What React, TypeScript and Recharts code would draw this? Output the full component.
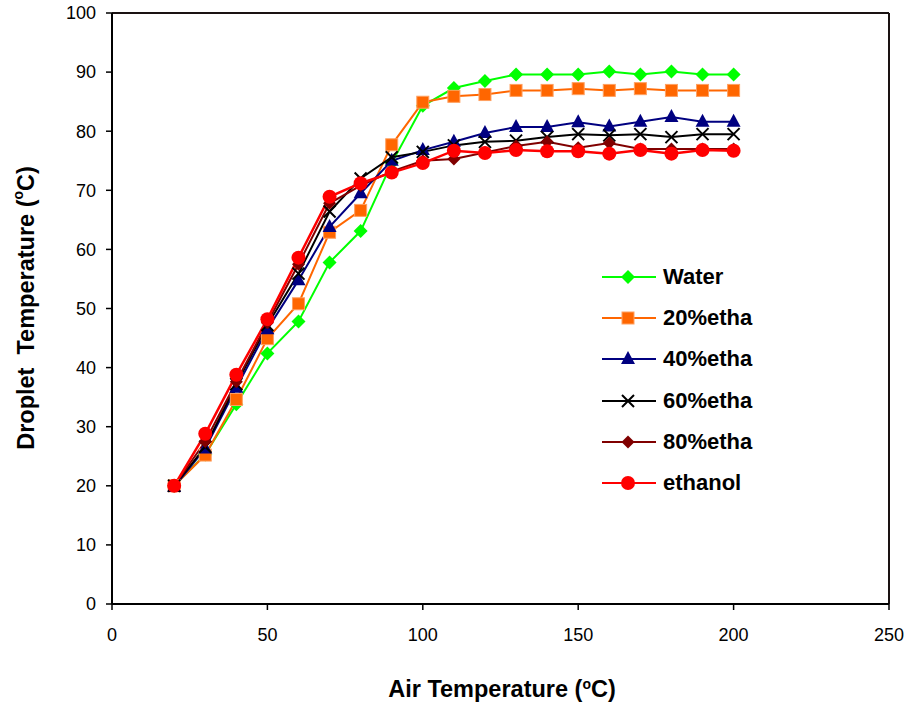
import React from "react";
import {
  LineChart,
  Line,
  XAxis,
  YAxis,
  Legend,
  ReferenceLine,
  Label,
} from "recharts";

const airTemp = [20, 30, 40, 50, 60, 70, 80, 90, 100, 110, 120, 130, 140, 150, 160, 170, 180, 190, 200];
const water = [20, 25.3, 33.8, 42.4, 47.8, 57.8, 63.1, 74.6, 84.3, 87.3, 88.5, 89.6, 89.6, 89.6, 90.1, 89.6, 90.1, 89.6, 89.6];
const etha20 = [20, 25.2, 34.6, 44.9, 50.8, 62.9, 66.6, 77.7, 84.9, 85.9, 86.2, 86.9, 86.9, 87.2, 86.9, 87.2, 86.9, 86.9, 86.9];
const etha40 = [19.8, 26.3, 36.6, 46.5, 54.8, 63.8, 69.5, 75.0, 76.8, 78.2, 79.7, 80.7, 80.7, 81.5, 80.8, 81.6, 82.4, 81.6, 81.6];
const etha60 = [20, 26.6, 37.2, 47.2, 55.9, 66.4, 72.0, 75.6, 76.5, 77.6, 78.2, 78.4, 79.0, 79.5, 79.3, 79.5, 79.0, 79.5, 79.5];
const etha80 = [20, 27.5, 37.6, 47.6, 57.5, 67.8, 70.8, 73.2, 75.0, 75.3, 76.4, 77.5, 78.2, 77.2, 78.0, 77.0, 77.0, 77.0, 77.0];
const ethanol = [20, 28.8, 38.8, 48.2, 58.6, 68.9, 71.2, 73.0, 74.6, 76.7, 76.3, 76.8, 76.6, 76.6, 76.2, 76.8, 76.2, 76.8, 76.7];

const xTicks = [0, 50, 100, 150, 200, 250];
const yTicks = [0, 10, 20, 30, 40, 50, 60, 70, 80, 90, 100];

const data = airTemp.map((t, i) => ({
  t,
  water: water[i],
  e20: etha20[i],
  e40: etha40[i],
  e60: etha60[i],
  e80: etha80[i],
  eth: ethanol[i],
}));

type Shape = "diamond" | "square" | "triangle" | "cross" | "smallDiamond" | "circle";

function marker(shape: Shape, color: string, cx: number, cy: number, key?: string) {
  switch (shape) {
    case "diamond":
      return <path key={key} d={`M${cx},${cy - 7}L${cx + 7},${cy}L${cx},${cy + 7}L${cx - 7},${cy}Z`} fill={color} />;
    case "smallDiamond":
      return <path key={key} d={`M${cx},${cy - 6.5}L${cx + 6.5},${cy}L${cx},${cy + 6.5}L${cx - 6.5},${cy}Z`} fill={color} />;
    case "square":
      return <rect key={key} x={cx - 6} y={cy - 6} width={12} height={12} fill={color} stroke="#ffa060" strokeWidth={1} />;
    case "triangle":
      return <path key={key} d={`M${cx},${cy - 8}L${cx + 7},${cy + 5}L${cx - 7},${cy + 5}Z`} fill={color} />;
    case "cross":
      return (
        <path key={key} d={`M${cx - 6},${cy - 6}L${cx + 6},${cy + 6}M${cx + 6},${cy - 6}L${cx - 6},${cy + 6}`} stroke={color} strokeWidth={2} fill="none" />
      );
    default:
      return <circle key={key} cx={cx} cy={cy} r={7} fill={color} />;
  }
}

const series: { key: string; name: string; color: string; shape: Shape; width: number }[] = [
  { key: "water", name: "Water", color: "#00ff00", shape: "diamond", width: 2 },
  { key: "e20", name: "20%etha", color: "#ff6600", shape: "square", width: 2 },
  { key: "e40", name: "40%etha", color: "#000080", shape: "triangle", width: 2 },
  { key: "e60", name: "60%etha", color: "#000000", shape: "cross", width: 2 },
  { key: "e80", name: "80%etha", color: "#800000", shape: "smallDiamond", width: 2 },
  { key: "eth", name: "ethanol", color: "#ff0000", shape: "circle", width: 2.5 },
];

const font = "'Liberation Sans', Arial, sans-serif";

function LegendBox() {
  return (
    <div style={{ fontFamily: font }}>
      {series.map((s) => (
        <div key={s.key} style={{ display: "flex", alignItems: "center", height: 41.3 }}>
          <svg width={58} height={20}>
            <line x1={2} y1={10} x2={56} y2={10} stroke={s.color} strokeWidth={2} />
            {marker(s.shape, s.color, 28, 10)}
          </svg>
          <span style={{ marginLeft: 5, fontSize: 22, fontWeight: "bold", color: "#000" }}>{s.name}</span>
        </div>
      ))}
    </div>
  );
}

function YTitle(props: any) {
  const x = 26;
  const y = 308;
  return (
    <text
      x={x}
      y={y}
      transform={`rotate(-90, ${x}, ${y})`}
      textAnchor="middle"
      dominantBaseline="central"
      fontFamily={font}
      fontWeight="bold"
      fontSize={23.5}
      fill="#000"
    >
      Droplet{"\u00a0 "}Temperature (<tspan dy={-8} fontSize={14}>o</tspan>
      <tspan dy={8}>C)</tspan>
    </text>
  );
}

function XTitle(props: any) {
  return (
    <text
      x={502}
      y={697}
      textAnchor="middle"
      fontFamily={font}
      fontWeight="bold"
      fontSize={23.5}
      fill="#000"
    >
      Air Temperature (<tspan dy={-8} fontSize={14}>o</tspan>
      <tspan dy={8}>C)</tspan>
    </text>
  );
}

export default function App() {
  return (
    <div style={{ position: "absolute", left: 0, top: 0, width: 911, height: 705, background: "#fff", fontFamily: font }}>
      <LineChart width={911} height={705} data={data} margin={{ top: 13, right: 22, bottom: 0, left: 0 }}>
        <XAxis
          dataKey="t"
          type="number"
          domain={[0, 250]}
          ticks={xTicks}
          height={101}
          axisLine={{ stroke: "#000", strokeWidth: 2 }}
          tickLine={{ stroke: "#000", strokeWidth: 1.5 }}
          tickSize={6}
          tickMargin={18}
          tick={{ fill: "#000", fontSize: 18, fontFamily: font }}
        >
          <Label content={<XTitle />} />
        </XAxis>
        <YAxis
          type="number"
          domain={[0, 100]}
          ticks={yTicks}
          width={112}
          axisLine={{ stroke: "#000", strokeWidth: 2 }}
          tickLine={{ stroke: "#000", strokeWidth: 1.5 }}
          tickSize={6}
          tickMargin={10}
          tick={{ fill: "#000", fontSize: 18, fontFamily: font }}
        >
          <Label content={<YTitle />} />
        </YAxis>
        <ReferenceLine y={100} stroke="#1a1212" strokeWidth={2} />
        <ReferenceLine x={250} stroke="#1a1212" strokeWidth={2} />
        {series.map((s) => (
          <Line
            key={s.key}
            dataKey={s.key}
            name={s.name}
            type="linear"
            stroke={s.color}
            strokeWidth={s.width}
            isAnimationActive={false}
            dot={(p: any) => marker(s.shape, s.color, p.cx, p.cy, `${s.key}-${p.index}`)}
            activeDot={false}
          />
        ))}
        <Legend
          layout="vertical"
          align="center"
          verticalAlign="middle"
          wrapperStyle={{ left: 600, top: 256, bottom: "auto", width: 220 }}
          content={() => <LegendBox />}
        />
      </LineChart>
    </div>
  );
}
